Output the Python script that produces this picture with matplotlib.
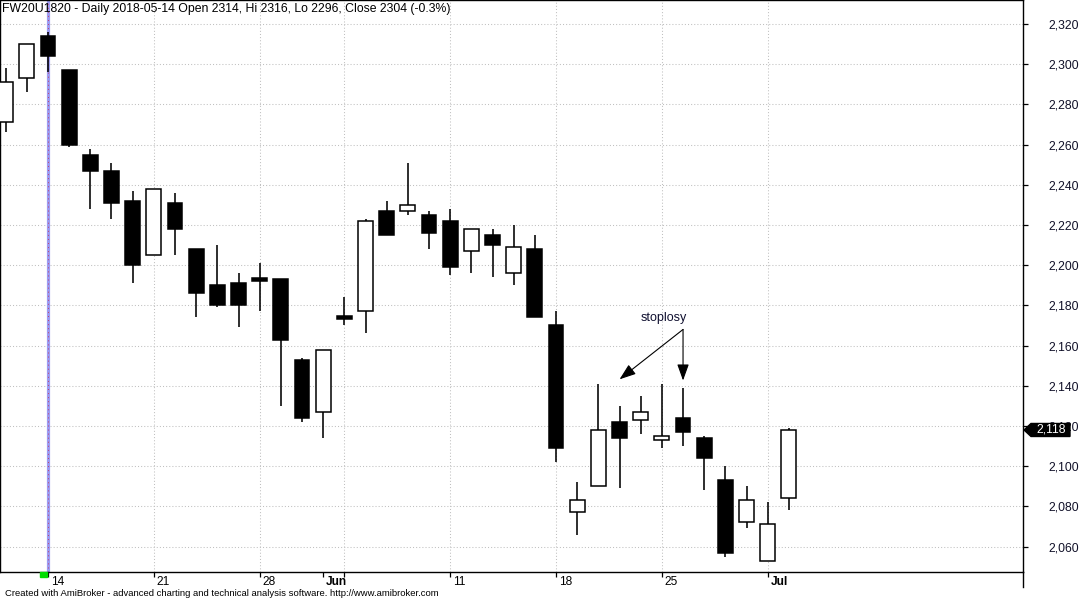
import matplotlib
matplotlib.use('Agg')
import matplotlib.pyplot as plt
import matplotlib.transforms as mtransforms
from matplotlib.patches import Rectangle, Polygon, FancyArrowPatch
from matplotlib.lines import Line2D

plt.rcParams['font.family'] = ['Liberation Sans', 'DejaVu Sans']
plt.rcParams['lines.scale_dashes'] = False

# ---- data ----
dates = ['2018-05-10', '2018-05-11', '2018-05-14', '2018-05-15', '2018-05-16', '2018-05-17',
         '2018-05-18', '2018-05-21', '2018-05-22', '2018-05-23', '2018-05-24', '2018-05-25',
         '2018-05-28', '2018-05-29', '2018-05-30', '2018-06-01', '2018-06-04', '2018-06-05',
         '2018-06-06', '2018-06-07', '2018-06-08', '2018-06-11', '2018-06-12', '2018-06-13',
         '2018-06-14', '2018-06-15', '2018-06-18', '2018-06-19', '2018-06-20', '2018-06-21',
         '2018-06-22', '2018-06-25', '2018-06-26', '2018-06-27', '2018-06-28', '2018-06-29',
         '2018-07-02', '2018-07-03']
opens = [2271, 2293, 2314, 2297, 2255, 2247, 2232, 2205, 2231, 2208, 2190, 2191, 2193,
         2193, 2153, 2127, 2174, 2177, 2227, 2227, 2225, 2222, 2207, 2215, 2196, 2208,
         2170, 2077, 2090, 2122, 2123, 2113, 2124, 2114, 2093, 2072, 2053, 2084]
highs = [2298, 2310, 2316, 2297, 2258, 2251, 2237, 2238, 2236, 2208, 2210, 2196, 2201,
         2193, 2154, 2158, 2184, 2223, 2232, 2251, 2227, 2228, 2218, 2218, 2220, 2215,
         2177, 2092, 2141, 2130, 2135, 2141, 2139, 2115, 2100, 2090, 2082, 2119]
lows = [2266, 2286, 2296, 2259, 2228, 2223, 2191, 2205, 2205, 2174, 2179, 2169, 2177,
        2130, 2122, 2114, 2170, 2166, 2215, 2225, 2208, 2195, 2196, 2194, 2190, 2174,
        2102, 2066, 2090, 2089, 2116, 2109, 2110, 2088, 2055, 2069, 2053, 2078]
closes = [2291, 2310, 2304, 2260, 2247, 2231, 2200, 2238, 2218, 2186, 2180, 2180, 2193,
          2163, 2124, 2158, 2174, 2222, 2215, 2230, 2216, 2199, 2218, 2210, 2209, 2174,
          2109, 2083, 2118, 2114, 2127, 2115, 2117, 2104, 2057, 2083, 2071, 2118]

ytick_values = [2060, 2080, 2100, 2120, 2140, 2160, 2180, 2200, 2220, 2240, 2260, 2280, 2300, 2320]
xtick_dates = ['2018-05-14', '2018-05-21', '2018-05-28', '2018-06-01', '2018-06-04',
               '2018-06-11', '2018-06-18', '2018-06-25', '2018-07-02']
xtick_labels = ['14', '21', '28', 'Jun', '', '11', '18', '25', 'Jul']
grid_dates = ['2018-05-14', '2018-05-21', '2018-05-28', '2018-06-04', '2018-06-11',
              '2018-06-18', '2018-06-25', '2018-07-02']
selected_date = '2018-05-14'
title = 'FW20U1820 - Daily 2018-05-14 Open 2314, Hi 2316, Lo 2296, Close 2304 (-0.3%)'
note_text = 'stoplosy'
note_xy = ('2018-06-25', 2173.5)
arrow_start = ('2018-06-26', 2168)
arrow_ends = [('2018-06-21', 2143.2), ('2018-06-26', 2142.6)]
footer = 'Created with AmiBroker - advanced charting and technical analysis software. http://www.amibroker.com'

pos = {d: i for i, d in enumerate(dates)}

# ---- figure ----
W, H = 1084, 600
fig = plt.figure(figsize=(W / 100, H / 100), dpi=100)
ax_right_px = 1023
ax_bottom_px = 572.3
ax = fig.add_axes([0, (H - ax_bottom_px) / H, ax_right_px / W, ax_bottom_px / H])
ax.set_xlim(-0.267, 48.06)
ax.set_ylim(2047.2, 2331.9)

# grid
grid_kw = dict(color='#c0c0c0', lw=0.75, linestyle=(0, (0.75, 1.5)), zorder=0)
for v in ytick_values:
    ax.axhline(v, **grid_kw)
for d in grid_dates:
    ax.axvline(pos[d], **grid_kw)

# selected bar line
sx = pos[selected_date]
ax.axvline(sx, color='#9c9cf2', lw=2.3, zorder=1)
ax.axvline(sx, color='#c04070', lw=0.7, linestyle=(0, (0.72, 2.2)), zorder=1.1)
ax.add_patch(Rectangle((sx - 0.38, -0.0075), 0.32, 0.0075, color='#00dd00',
                       transform=mtransforms.blended_transform_factory(ax.transData, ax.transAxes),
                       clip_on=False, zorder=5))

# candles
bw = 0.70
for i in range(len(dates)):
    o, h, l, c = opens[i], highs[i], lows[i], closes[i]
    ax.add_line(Line2D([i, i], [l, h], color='black', lw=1.15, zorder=2, solid_capstyle='butt'))
    if c > o:
        ax.add_patch(Rectangle((i - bw / 2, o), bw, c - o, facecolor='white',
                               edgecolor='black', lw=1.1, zorder=3))
    elif c < o:
        ax.add_patch(Rectangle((i - bw / 2, c), bw, o - c, facecolor='black',
                               edgecolor='black', lw=1.1, zorder=3))
    else:
        ax.add_patch(Rectangle((i - bw / 2, o - 0.7), bw, 1.4, facecolor='black',
                               edgecolor='black', lw=1.1, zorder=3))

# annotation
ax.text(pos[note_xy[0]] + 0.1, note_xy[1], note_text, fontsize=9, color='#101030',
        ha='center', va='center', zorder=6)
for ed, ev in arrow_ends:
    ar = FancyArrowPatch((pos[arrow_start[0]], arrow_start[1]), (pos[ed], ev),
                         arrowstyle='-|>,head_length=1.0,head_width=0.36',
                         mutation_scale=10, color='black', lw=0.8,
                         shrinkA=0, shrinkB=0, zorder=6)
    ax.add_patch(ar)

# spines
for s in ['left', 'right', 'top', 'bottom']:
    ax.spines[s].set_color('black')
    ax.spines[s].set_linewidth(1.0)
fig.add_artist(Line2D([ax_right_px / W, ax_right_px / W],
                      [(H - ax_bottom_px) / H, (H - 587) / H], color='black', lw=1.0))

# y axis
ax.yaxis.tick_right()
ax.set_yticks(ytick_values)
ax.set_yticklabels([f'{v:,}' for v in ytick_values], fontsize=8.7, color='#101028')
ax.tick_params(axis='y', direction='out', length=3.6, width=0.9, pad=15)

# x axis
ax.set_xticks([pos[d] for d in xtick_dates])
ax.set_xticklabels([])
ax.tick_params(axis='x', direction='out', length=3.8, width=0.9)
blend = mtransforms.blended_transform_factory(ax.transData, ax.transAxes)
for d, lab in zip(xtick_dates, xtick_labels):
    if not lab:
        continue
    bold = lab.isalpha()
    ax.annotate(lab, xy=(pos[d], 0), xycoords=blend, xytext=(2.2, -3.0),
                textcoords='offset points', ha='left', va='top', fontsize=8.6,
                fontweight='bold' if bold else 'normal', color='black', annotation_clip=False)

# last price marker
last = closes[-1]
px = 1.0 / ax_right_px
dv = 6.5 / 2.01
poly = Polygon([(1.0 + 1 * px, last), (1.0 + 8 * px, last + dv), (1.0 + 47 * px, last + dv),
                (1.0 + 47 * px, last - dv), (1.0 + 8 * px, last - dv)], closed=True,
               facecolor='black', edgecolor='black',
               transform=mtransforms.blended_transform_factory(ax.transAxes, ax.transData),
               clip_on=False, zorder=10)
ax.add_patch(poly)
ax.text(1.0 + 28 * px, last, f'{last:,}', fontsize=8.7, color='white', ha='center', va='center',
        transform=mtransforms.blended_transform_factory(ax.transAxes, ax.transData),
        clip_on=False, zorder=11)

# title and footer
fig.text(2 / W, 1 - 9 / H, title, fontsize=8.8, color='black', ha='left', va='center', zorder=20)
fig.text(5 / W, 1 - 593 / H, footer, fontsize=6.8, color='black', ha='left', va='center')

fig.savefig('out.png', dpi=100)
